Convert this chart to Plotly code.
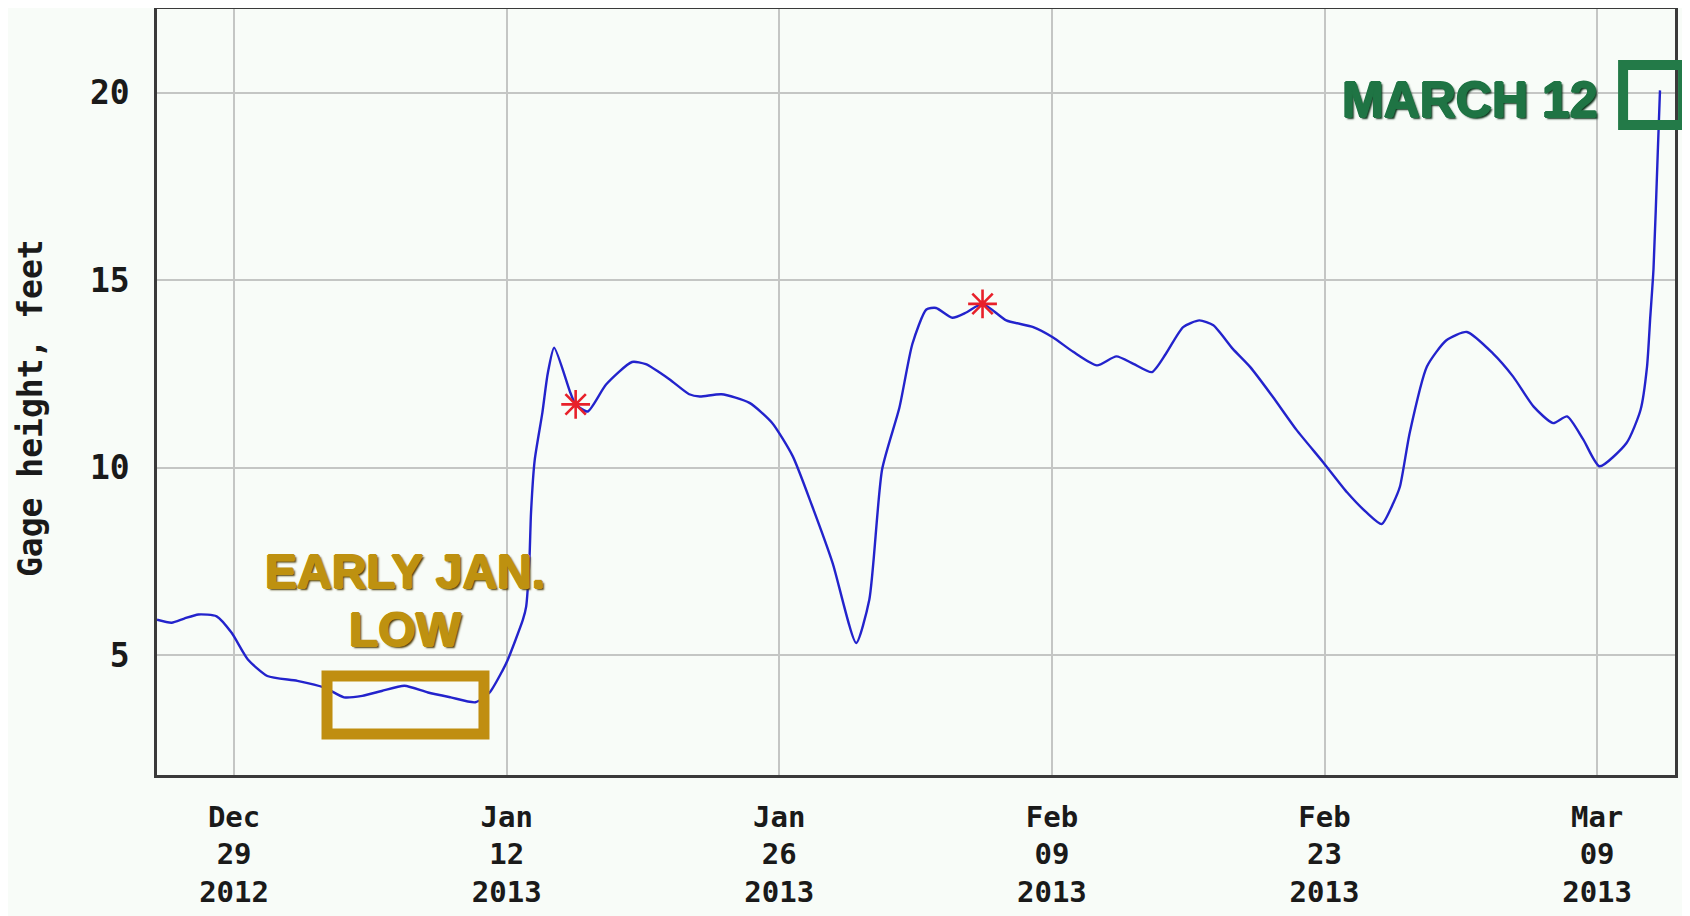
import plotly.graph_objects as go

# ---- data ----
times = [
    "2012-12-25 01:00", "2012-12-25 19:00", "2012-12-26 10:30", "2012-12-27 04:00",
    "2012-12-28 02:30", "2012-12-28 21:00", "2012-12-29 17:00", "2012-12-30 17:00",
    "2013-01-01 06:00", "2013-01-02 15:30", "2013-01-03 15:30", "2013-01-04 14:00",
    "2013-01-05 14:00", "2013-01-06 18:00", "2013-01-07 23:00", "2013-01-09 03:00",
    "2013-01-10 09:30", "2013-01-11 03:00", "2013-01-11 19:00", "2013-01-12 01:30",
    "2013-01-12 20:00", "2013-01-13 00:00", "2013-01-13 04:00", "2013-01-13 06:00",
    "2013-01-13 10:30", "2013-01-13 20:00", "2013-01-14 02:30", "2013-01-14 10:30",
    "2013-01-15 06:30", "2013-01-15 13:00", "2013-01-16 03:45", "2013-01-17 02:30",
    "2013-01-18 10:30", "2013-01-19 03:30", "2013-01-20 08:30", "2013-01-21 09:00",
    "2013-01-21 22:00", "2013-01-23 00:45", "2013-01-24 11:15", "2013-01-25 15:00",
    "2013-01-26 16:30", "2013-01-27 16:30", "2013-01-28 17:45", "2013-01-29 22:45",
    "2013-01-30 15:00", "2013-01-31 06:45", "2013-02-01 04:00", "2013-02-01 20:00",
    "2013-02-02 13:15", "2013-02-03 01:15", "2013-02-03 21:15", "2013-02-04 14:30",
    "2013-02-05 10:30", "2013-02-06 15:45", "2013-02-08 01:00", "2013-02-09 01:00",
    "2013-02-10 02:15", "2013-02-11 07:30", "2013-02-12 07:30", "2013-02-13 04:30",
    "2013-02-14 03:15", "2013-02-14 20:30", "2013-02-15 17:45", "2013-02-16 13:45",
    "2013-02-17 07:00", "2013-02-18 07:00", "2013-02-19 04:15", "2013-02-20 08:00",
    "2013-02-21 13:30", "2013-02-22 23:00", "2013-02-24 04:00", "2013-02-25 03:45",
    "2013-02-25 22:30", "2013-02-26 13:00", "2013-02-26 21:00", "2013-02-27 09:00",
    "2013-02-28 06:15", "2013-03-01 06:15", "2013-03-02 07:30", "2013-03-03 15:30",
    "2013-03-04 16:30", "2013-03-05 17:45", "2013-03-06 17:45", "2013-03-07 11:00",
    "2013-03-08 07:00", "2013-03-09 03:00", "2013-03-10 12:15", "2013-03-11 05:30",
    "2013-03-11 13:30", "2013-03-11 17:30", "2013-03-11 21:30", "2013-03-12 02:45",
    "2013-03-12 05:30",
]
gage_height = [
    5.95, 5.87, 5.98, 6.09,
    6.04, 5.60, 4.89, 4.45,
    4.32, 4.14, 3.88, 3.92,
    4.05, 4.19, 4.01, 3.88,
    3.75, 4.01, 4.60, 4.89,
    5.95, 6.30, 7.54, 8.80,
    10.20, 11.47, 12.50, 13.20,
    12.00, 11.69, 11.50, 12.22,
    12.82, 12.76, 12.36, 11.96,
    11.90, 11.96, 11.73, 11.20,
    10.31, 8.98, 7.46, 5.33,
    6.49, 9.96, 11.60, 13.30,
    14.22, 14.26, 14.00, 14.14,
    14.37, 13.93, 13.75, 13.48,
    13.09, 12.73, 12.97, 12.77,
    12.55, 13.04, 13.75, 13.93,
    13.80, 13.17, 12.69, 11.90,
    11.01, 10.13, 9.34, 8.81,
    8.50, 9.07, 9.50, 10.93,
    12.70, 13.40, 13.62, 13.05,
    12.43, 11.63, 11.19, 11.37,
    10.75, 10.04, 10.66, 11.54,
    12.69, 14.01, 15.30, 18.40,
    20.06,
]
flag_times = ["2013-01-15 13:00", "2013-02-05 10:30"]
flag_values = [11.69, 14.37]

tick_dates = ["2012-12-29", "2013-01-12", "2013-01-26", "2013-02-09", "2013-02-23", "2013-03-09"]
tick_labels = ["Dec<br>29<br>2012", "Jan<br>12<br>2013", "Jan<br>26<br>2013",
               "Feb<br>09<br>2013", "Feb<br>23<br>2013", "Mar<br>09<br>2013"]
y_ticks = [5, 10, 15, 20]
y_tick_labels = ["5", "10", "15", "20"]

BG = "#F8FCF8"
XFONT = dict(family="DejaVu Sans Mono", size=29, color="#1a1a1a", weight="bold")
YFONT = dict(family="DejaVu Sans Mono", size=33, color="#1a1a1a", weight="bold")
GOLD = "#BE9110"
GREEN = "#1F7444"

fig = go.Figure()
fig.add_trace(go.Scatter(x=times, y=gage_height, mode="lines",
                         line=dict(color="#2323CC", width=2.4, shape="spline", smoothing=0.6),
                         hoverinfo="skip"))
fig.add_trace(go.Scatter(x=flag_times, y=flag_values, mode="markers",
                         marker=dict(symbol="asterisk-open", size=24, color="#E8202A",
                                     line=dict(color="#E8202A", width=2.6))))

fig.update_layout(
    width=1682, height=908,
    margin=dict(l=149, r=15, t=1, b=141),
    paper_bgcolor=BG, plot_bgcolor=BG,
    showlegend=False,
    xaxis=dict(range=["2012-12-25 01:00", "2013-03-13 00:00"], type="date",
               tickmode="array", tickvals=tick_dates, ticktext=tick_labels,
               tickfont=XFONT, showgrid=True, gridcolor="#C4C6C4", gridwidth=1.5,
               showline=True, linecolor="#3a3a3a", linewidth=2.5, mirror=True,
               ticks="", ticklabelstandoff=14, zeroline=False, automargin=False),
    yaxis=dict(range=[1.81, 22.23], tickmode="array", tickvals=y_ticks,
               ticktext=y_tick_labels, tickfont=YFONT, showgrid=True,
               gridcolor="#C4C6C4", gridwidth=1.5, showline=True,
               linecolor="#3a3a3a", linewidth=2.5, mirror=True, ticks="",
               ticklabelstandoff=18, zeroline=False, automargin=False),
)

fig.add_annotation(text="Gage height, feet", textangle=-90, xref="paper", yref="paper",
                   x=-0.0837, y=0.479, xanchor="center", yanchor="middle",
                   showarrow=False, font=YFONT)

shadow_gold = ("1px 0 0 #BE9110, -1px 0 0 #BE9110, 0 1px 0 #BE9110, 0 -1px 0 #BE9110, "
               "2px 2px 2px #4a3a00")
shadow_green = ("1px 0 0 #1F7444, -1px 0 0 #1F7444, 0 1px 0 #1F7444, 0 -1px 0 #1F7444, "
                "2px 2px 2px #0b3018")
fig.add_annotation(text="EARLY JAN.", xref="paper", yref="paper", x=0.1634, y=0.2663,
                   xanchor="center", yanchor="middle", showarrow=False,
                   font=dict(family="Liberation Sans", size=48, color=GOLD,
                             weight="bold", shadow=shadow_gold))
fig.add_annotation(text="LOW", xref="paper", yref="paper", x=0.1634, y=0.1893,
                   xanchor="center", yanchor="middle", showarrow=False,
                   font=dict(family="Liberation Sans", size=48, color=GOLD,
                             weight="bold", shadow=shadow_gold))
fig.add_annotation(text="MARCH 12", xref="paper", yref="paper", x=0.865, y=0.881,
                   xanchor="center", yanchor="middle", showarrow=False,
                   font=dict(family="Liberation Sans", size=50, color=GREEN,
                             weight="bold", shadow=shadow_green))

fig.add_shape(type="rect", xref="paper", yref="paper", x0=0.112, x1=0.2154,
              y0=0.0535, y1=0.1292, line=dict(color="#C08E10", width=11))
fig.add_shape(type="rect", xref="paper", yref="paper", x0=0.9658, x1=1.0053,
              y0=0.8486, y1=0.9269, line=dict(color="#237A48", width=10))

fig.write_html("out.html")
